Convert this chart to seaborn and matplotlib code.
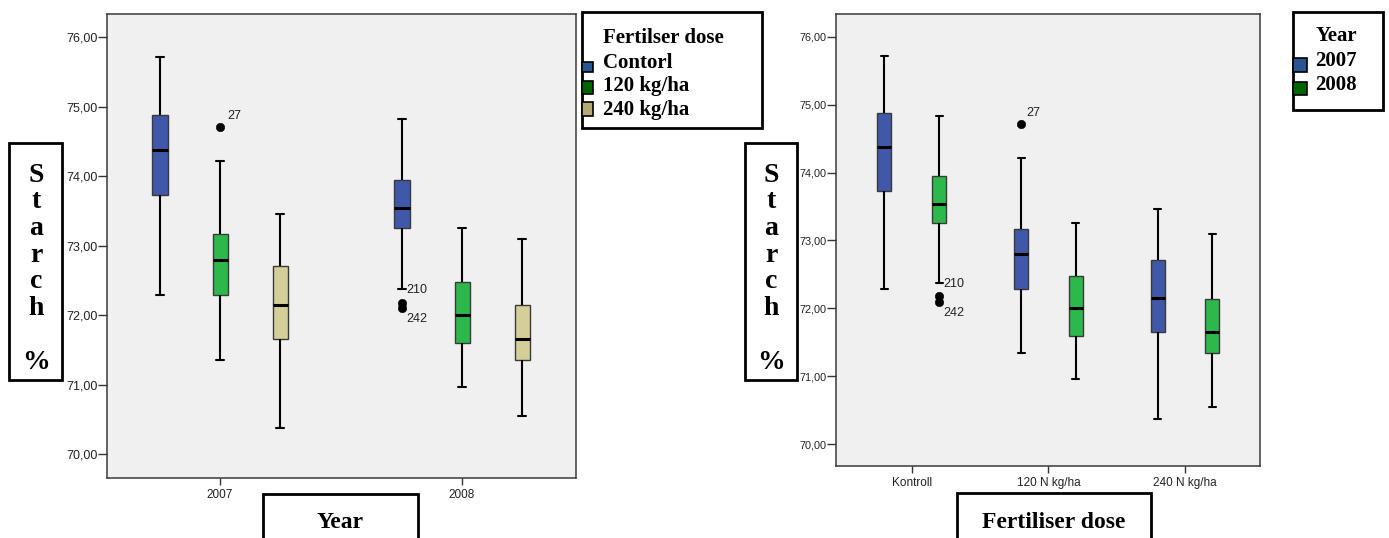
import numpy as np
import pandas as pd
import matplotlib
matplotlib.use("Agg")
import matplotlib.pyplot as plt
from matplotlib.patches import Rectangle
import seaborn as sns

# ---------------- data ----------------
years = ["2007", "2008"]
doses = ["Contorl", "120 kg/ha", "240 kg/ha"]
dose_ticks = ["Kontroll", "120 N kg/ha", "240 N kg/ha"]

group_year = ["2007", "2007", "2007", "2008", "2008", "2008"]
group_dose = ["Contorl", "120 kg/ha", "240 kg/ha", "Contorl", "120 kg/ha", "240 kg/ha"]
whisker_low = [72.29, 71.35, 70.37, 72.38, 70.96, 70.55]
q1 = [73.73, 72.29, 71.66, 73.25, 71.60, 71.35]
median = [74.38, 72.80, 72.15, 73.54, 72.00, 71.66]
q3 = [74.88, 73.17, 72.71, 73.95, 72.48, 72.14]
whisker_high = [75.71, 74.22, 73.46, 74.83, 73.26, 73.09]

outlier_year = ["2007", "2008", "2008"]
outlier_dose = ["120 kg/ha", "Contorl", "Contorl"]
outlier_value = [74.71, 72.18, 72.10]
outlier_label = ["27", "210", "242"]

yticks = [70, 71, 72, 73, 74, 75, 76]
ytick_labels = ["70,00", "71,00", "72,00", "73,00", "74,00", "75,00", "76,00"]

dose_colors = ["#3f58a9", "#2db84b", "#d4cf99"]
year_colors = ["#3f58a9", "#2db84b"]
dose_legend_colors = ["#2a5593", "#006400", "#b5a878"]
year_legend_colors = ["#2a5593", "#006400"]

# long table: the five box statistics of every group
rows = []
for i in range(len(group_year)):
    for v in (whisker_low[i], q1[i], median[i], q3[i], whisker_high[i]):
        rows.append({"Year": group_year[i], "Dose": group_dose[i], "Starch": v})
df = pd.DataFrame(rows)
out_df = pd.DataFrame({"Year": outlier_year, "Dose": outlier_dose,
                       "Starch": outlier_value, "label": outlier_label})

# ---------------- style ----------------
sns.set_theme(style="ticks")
plt.rcParams["font.family"] = ["Liberation Sans", "DejaVu Sans"]
W, H = 1389, 538
fig = plt.figure(figsize=(W / 100, H / 100), dpi=100)
fig.patch.set_facecolor("white")

ax1 = fig.add_axes([107 / W, 1 - 478 / H, 469 / W, 464 / H])
ax2 = fig.add_axes([836 / W, 1 - 466 / H, 424 / W, 452 / H])

box_kw = dict(whis=(0, 100), linecolor="black", linewidth=1.5,
              boxprops=dict(edgecolor="#3a3a3a", linewidth=1.0),
              medianprops=dict(color="black", linewidth=2.2),
              whiskerprops=dict(color="black", linewidth=1.5),
              capprops=dict(color="black", linewidth=1.5),
              legend=False, saturation=1)

# left: x = Year, hue = dose
left_width = 0.744
sns.boxplot(data=df, x="Year", y="Starch", hue="Dose", order=years, hue_order=doses,
            palette=dict(zip(doses, dose_colors)), width=left_width, gap=0.75,
            ax=ax1, **box_kw)
# right: x = dose, hue = Year
right_width = 0.8
sns.boxplot(data=df, x="Dose", y="Starch", hue="Year", order=doses, hue_order=years,
            palette=dict(zip(years, year_colors)), width=right_width, gap=0.745,
            ax=ax2, **box_kw)

# outliers (one pointplot call per point so nothing is averaged)
pt_kw = dict(markers="o", linestyles="none", errorbar=None, markersize=6.2,
             markeredgewidth=0.3, legend=False)
for i in range(len(out_df)):
    sub = out_df.iloc[[i]]
    sns.pointplot(data=sub, x="Year", y="Starch", hue="Dose", order=years, hue_order=doses,
                  palette={d: "black" for d in doses}, dodge=left_width * 2 / 3,
                  ax=ax1, **pt_kw)
    sns.pointplot(data=sub, x="Dose", y="Starch", hue="Year", order=doses, hue_order=years,
                  palette={y: "black" for y in years}, dodge=right_width / 2,
                  ax=ax2, **pt_kw)

# outlier labels
left_off = {"27": (5, 8), "210": (3, 9), "242": (3, -8)}
right_off = {"27": (4, 8), "210": (3, 9), "242": (3, -8)}
for _, r in out_df.iterrows():
    xl = years.index(r["Year"]) + (doses.index(r["Dose"]) - 1) * left_width / 3
    ax1.annotate(r["label"], xy=(xl, r["Starch"]), xytext=left_off[r["label"]],
                 textcoords="offset points", ha="left", va="center", fontsize=9,
                 color="#222222")
    xr = doses.index(r["Dose"]) + (years.index(r["Year"]) - 0.5) * right_width / 2
    ax2.annotate(r["label"], xy=(xr, r["Starch"]), xytext=right_off[r["label"]],
                 textcoords="offset points", ha="left", va="center", fontsize=9,
                 color="#222222")

# axes formatting
for ax, xlim, ylim, xt, xtl, ysize in (
        (ax1, (-0.467, 1.471), (69.655, 76.335), [0, 1], years, 9),
        (ax2, (-0.554, 2.548), (69.68, 76.334), [0, 1, 2], dose_ticks, 7.8)):
    ax.set_facecolor("#f0f0f0")
    ax.set_xlim(*xlim)
    ax.set_ylim(*ylim)
    ax.set_xticks(xt)
    ax.set_xticklabels(xtl)
    ax.set_yticks(yticks)
    ax.set_yticklabels(ytick_labels)
    ax.set_xlabel("")
    ax.set_ylabel("")
    ax.grid(False)
    for s in ax.spines.values():
        s.set_visible(True)
        s.set_color("#3a3a3a")
        s.set_linewidth(1.1)
    ax.tick_params(axis="both", direction="out", width=1, color="#333333",
                   labelcolor="#222222")
    ax.tick_params(axis="y", pad=0, length=6.5, labelsize=ysize)
    ax.tick_params(axis="x", pad=3, length=5, labelsize=8.5)


# ---------------- figure decorations (label boxes & legends) ----------------
def fbox(x0, y0, x1, y1, lw=2.0):
    fig.add_artist(Rectangle((x0 / W, 1 - y1 / H), (x1 - x0) / W, (y1 - y0) / H,
                             transform=fig.transFigure, fill=False, ec="black", lw=lw,
                             clip_on=False))


def fpatch(x0, y0, x1, y1, color):
    fig.add_artist(Rectangle((x0 / W, 1 - y1 / H), (x1 - x0) / W, (y1 - y0) / H,
                             transform=fig.transFigure, fc=color, ec="black", lw=1.2,
                             clip_on=False))


def ftext(x, y, s, size, ha="left", va="baseline"):
    fig.text(x / W, 1 - y / H, s, fontsize=size, fontweight="bold",
             family=["Liberation Serif", "DejaVu Serif"], ha=ha, va=va, color="black")


# vertical "Starch %" labels
ylab_letters = ["S", "t", "a", "r", "c", "h", "", "%"]
for cx, bx0, bx1 in ((36, 9, 62), (771, 745, 797)):
    fbox(bx0, 143, bx1, 380)
    for k, ch in enumerate(ylab_letters):
        if ch:
            ftext(cx, 181.7 + 26.7 * k, ch, 20, ha="center")

# x-axis label boxes
fbox(263, 494, 418, 545)
ftext(340.5, 528, "Year", 17, ha="center")
fbox(957, 493, 1151, 545)
ftext(1054, 528, "Fertiliser dose", 17, ha="center")

# left legend
fbox(582, 12, 762, 128)
ftext(603, 43, "Fertilser dose", 15)
leg_base = [68, 91.5, 115.5]
patch_y = [(62, 72), (81, 94), (102, 116)]
for lab, col, b, (py0, py1) in zip(doses, dose_legend_colors, leg_base, patch_y):
    fpatch(582, py0, 592.5, py1, col)
    ftext(603, b, lab, 15)

# right legend
fbox(1293, 12, 1383, 110)
ftext(1316, 41.5, "Year", 15)
for lab, col, b, (py0, py1) in zip(years, year_legend_colors, [66, 90.5],
                                    [(58.5, 71.5), (82, 95)]):
    fpatch(1293, py0, 1306.5, py1, col)
    ftext(1315, b, lab, 15)

fig.savefig("out.png", dpi=100)
